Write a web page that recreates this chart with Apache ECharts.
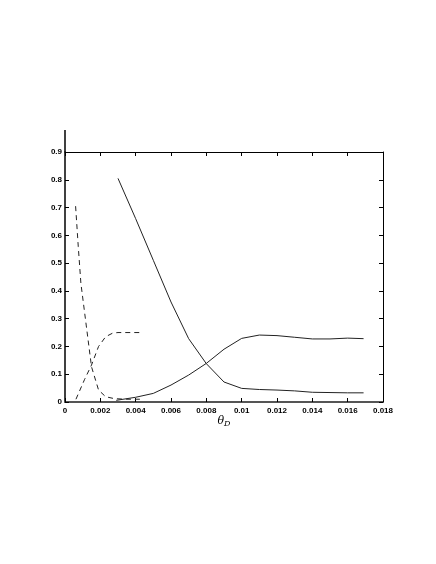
<!DOCTYPE html>
<html>
<head>
<meta charset="utf-8">
<style>
  html, body { margin: 0; padding: 0; background: #fff; }
  #chart { width: 436px; height: 564px; }
</style>
<script src="https://cdn.jsdelivr.net/npm/echarts@6/dist/echarts.min.js"></script>
</head>
<body>
<div id="chart"></div>
<script>
// 实线：下降曲线
const solidDownX = [0.003, 0.004, 0.005, 0.006, 0.007, 0.008, 0.009, 0.010, 0.011, 0.012, 0.013, 0.014, 0.015, 0.016, 0.0169];
const solidDownY = [0.805, 0.66, 0.51, 0.36, 0.228, 0.138, 0.072, 0.049, 0.045, 0.043, 0.040, 0.035, 0.034, 0.033, 0.033];
// 实线：上升曲线
const solidUpX = [0.0029, 0.004, 0.005, 0.006, 0.007, 0.008, 0.009, 0.010, 0.011, 0.012, 0.013, 0.014, 0.015, 0.016, 0.0169];
const solidUpY = [0.006, 0.017, 0.031, 0.061, 0.097, 0.139, 0.19, 0.229, 0.241, 0.239, 0.233, 0.227, 0.227, 0.23, 0.228];
// 虚线：下降曲线
const dashDownX = [0.0006, 0.00075, 0.0009, 0.0012, 0.0015, 0.0019, 0.0023, 0.0028, 0.0035, 0.0043];
const dashDownY = [0.705, 0.56, 0.427, 0.277, 0.127, 0.043, 0.019, 0.012, 0.010, 0.010];
// 虚线：上升曲线
const dashUpX = [0.00062, 0.0011, 0.0015, 0.0019, 0.0023, 0.0027, 0.003, 0.0043];
const dashUpY = [0.01, 0.08, 0.133, 0.2, 0.235, 0.248, 0.25, 0.25];

const xTicks = { min: 0, max: 0.018, interval: 0.002 };
const yTicks = { min: 0, max: 0.9, interval: 0.1 };

const zip = (xs, ys) => xs.map((x, i) => [x, ys[i]]);

const labelFont = { fontFamily: 'Liberation Sans', fontSize: 8, fontWeight: 'bold', color: '#000' };

const myChart = echarts.init(document.getElementById('chart'), null, { renderer: 'canvas' });

const lineSeries = (xs, ys, type) => ({
  type: 'line',
  data: zip(xs, ys),
  symbol: 'none',
  smooth: false,
  lineStyle: { color: '#222', width: 1, type: type, dashOffset: 0 },
  silent: true,
  animation: false
});

const option = {
  animation: false,
  grid: { left: 65, right: 53, top: 152, bottom: 162, containLabel: false },
  xAxis: [
    {
      type: 'value', position: 'bottom', ...xTicks,
      axisLine: { show: true, onZero: false, lineStyle: { color: '#555', width: 2 } },
      axisTick: { show: true, inside: true, length: 4, lineStyle: { color: '#000' } },
      axisLabel: { ...labelFont, margin: 5 },
      splitLine: { show: false },
      name: '{t|θ}{s|D}',
      nameLocation: 'middle',
      nameGap: 12,
      nameTextStyle: {
        rich: {
          t: { fontFamily: 'DejaVu Serif', fontStyle: 'italic', fontSize: 11, color: '#000' },
          s: { fontFamily: 'DejaVu Serif', fontStyle: 'italic', fontSize: 8, color: '#000', padding: [6, 0, 0, 0] }
        }
      }
    },
    {
      type: 'value', position: 'top', ...xTicks,
      axisLine: { show: true, onZero: false, lineStyle: { color: '#000', width: 1 } },
      axisTick: { show: true, inside: true, length: 4, lineStyle: { color: '#000' } },
      axisLabel: { show: false },
      splitLine: { show: false }
    }
  ],
  yAxis: [
    {
      type: 'value', position: 'left', ...yTicks,
      axisLine: { show: true, onZero: false, lineStyle: { color: '#000', width: 1.5 } },
      axisTick: { show: true, inside: true, length: 4, lineStyle: { color: '#000' } },
      axisLabel: { ...labelFont, margin: 3 },
      splitLine: { show: false }
    },
    {
      type: 'value', position: 'right', ...yTicks,
      axisLine: { show: true, onZero: false, lineStyle: { color: '#000', width: 1 } },
      axisTick: { show: true, inside: true, length: 4, lineStyle: { color: '#000' } },
      axisLabel: { show: false },
      splitLine: { show: false }
    }
  ],
  series: [
    lineSeries(solidDownX, solidDownY, 'solid'),
    lineSeries(solidUpX, solidUpY, 'solid'),
    lineSeries(dashDownX, dashDownY, [5, 4]),
    lineSeries(dashUpX, dashUpY, [5, 4])
  ]
};

myChart.setOption(option);

// 左侧坐标轴向上延伸的一段
const topLeft = myChart.convertToPixel({ gridIndex: 0 }, [0, 0.9]);
myChart.setOption({
  graphic: [{
    type: 'line',
    shape: { x1: topLeft[0], y1: topLeft[1], x2: topLeft[0], y2: topLeft[1] - 22 },
    style: { stroke: '#000', lineWidth: 1.5 },
    silent: true
  }]
});
</script>
</body>
</html>
